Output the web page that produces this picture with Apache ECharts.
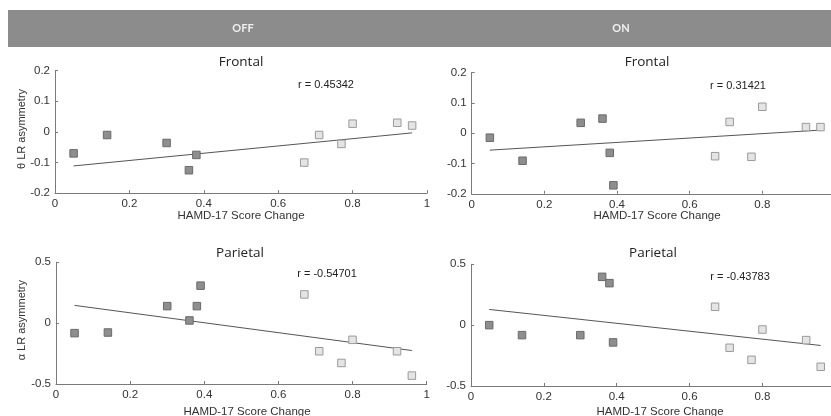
<!DOCTYPE html>
<html>
<head>
<meta charset="utf-8">
<script src="https://cdn.jsdelivr.net/npm/echarts@6/dist/echarts.min.js"></script>
<style>
html,body{margin:0;padding:0;background:#fff;}
#chart{width:831px;height:416px;}
</style>
</head>
<body>
<div id="chart"></div>
<script>
// ---- data ----
const headers = ['OFF', 'ON'];
const panelTitles = ['Frontal', 'Frontal', 'Parietal', 'Parietal'];
const yTitles = ['\u03b8 LR asymmetry', '', '\u03b1 LR asymmetry', ''];
const xTitle = 'HAMD-17 Score Change';
const rLabels = ['r = 0.45342', 'r = 0.31421', 'r = -0.54701', 'r = -0.43783'];

// HAMD-17 score change per subject (first 6 = dark markers, last 6 = light markers)
const scoreChange = [0.05, 0.14, 0.30, 0.36, 0.38, 0.39, 0.67, 0.71, 0.77, 0.80, 0.92, 0.96];
const darkCount = 6;

const offFrontal  = [-0.070, -0.010, -0.036, -0.125, -0.075, null, -0.100, -0.010, -0.039, 0.027, 0.030, 0.021];
const onFrontal   = [-0.015, -0.091, 0.034, 0.048, -0.065, -0.172, -0.076, 0.037, -0.078, 0.087, 0.020, 0.020];
const offParietal = [-0.082, -0.077, 0.140, 0.022, 0.140, 0.308, 0.236, -0.231, -0.327, -0.137, -0.231, -0.431];
const onParietal  = [0.000, -0.082, -0.082, 0.397, 0.345, -0.142, 0.151, -0.186, -0.285, -0.036, -0.123, -0.342];

// fitted regression line end points [x, y]
const offFrontalFit  = [[0.05, -0.111], [0.96, -0.003]];
const onFrontalFit   = [[0.05, -0.056], [0.96, 0.010]];
const offParietalFit = [[0.05, 0.146], [0.96, -0.225]];
const onParietalFit  = [[0.05, 0.129], [0.96, -0.167]];

const xTicks = {min: 0, max: 1, interval: 0.2};
const frontalTicks = {min: -0.2, max: 0.2, interval: 0.1};
const parietalTicks = {min: -0.5, max: 0.5, interval: 0.5};

// ---- layout ----
const panels = [
  {values: offFrontal, fit: offFrontalFit, y: frontalTicks, grid: {left: 55, top: 70.7, width: 372, height: 122.5}},
  {values: onFrontal, fit: onFrontalFit, y: frontalTicks, grid: {left: 471.7, top: 72.5, width: 363.3, height: 121.3}},
  {values: offParietal, fit: offParietalFit, y: parietalTicks, grid: {left: 56, top: 262.3, width: 370.7, height: 121.7}},
  {values: onParietal, fit: onParietalFit, y: parietalTicks, grid: {left: 471, top: 264.3, width: 364.3, height: 121.7}}
];

const FONT = '"Liberation Sans", Arial, sans-serif';
const axisColor = '#7a7a7a';
const grids = [], xAxes = [], yAxes = [], series = [], graphics = [];

// header bar
graphics.push({type: 'rect', shape: {x: 8, y: 10, width: 823, height: 37}, style: {fill: '#8c8c8c'}, z: 0});
graphics.push({type: 'text', x: 243, y: 28, style: {text: headers[0], font: 'bold 11px Lato, "Open Sans", sans-serif', fill: '#f0f0f0', align: 'center', verticalAlign: 'middle'}});
graphics.push({type: 'text', x: 621, y: 28, style: {text: headers[1], font: 'bold 11px Lato, "Open Sans", sans-serif', fill: '#f0f0f0', align: 'center', verticalAlign: 'middle'}});

panels.forEach((p, i) => {
  grids.push(Object.assign({containLabel: false, outerBoundsMode: 'none'}, p.grid));
  xAxes.push({
    gridIndex: i, type: 'value', min: xTicks.min, max: xTicks.max, interval: xTicks.interval,
    axisLine: {show: true, onZero: false, lineStyle: {color: axisColor, width: 1}},
    axisTick: {show: true, inside: true, length: 3, lineStyle: {color: axisColor}},
    axisLabel: {fontSize: 11.5, color: '#333', margin: 5, fontFamily: FONT},
    splitLine: {show: false}
  });
  yAxes.push({
    gridIndex: i, type: 'value', min: p.y.min, max: p.y.max, interval: p.y.interval,
    axisLine: {show: true, onZero: false, lineStyle: {color: axisColor, width: 1}},
    axisTick: {show: true, inside: true, length: 3, lineStyle: {color: axisColor}},
    axisLabel: {fontSize: 11.5, color: '#333', margin: 5, fontFamily: FONT},
    splitLine: {show: false}
  });
  const dark = [], light = [];
  scoreChange.forEach((x, k) => {
    if (p.values[k] === null) return;
    (k < darkCount ? dark : light).push([x, p.values[k]]);
  });
  series.push({
    type: 'line', xAxisIndex: i, yAxisIndex: i, data: p.fit, symbol: 'none', silent: true,
    lineStyle: {color: '#555', width: 1}, z: 1
  });
  series.push({
    type: 'scatter', xAxisIndex: i, yAxisIndex: i, data: dark, symbol: 'rect', symbolSize: 7.5,
    itemStyle: {color: '#8e8e8e', borderColor: '#6a6a6a', borderWidth: 1, opacity: 1}, z: 2
  });
  series.push({
    type: 'scatter', xAxisIndex: i, yAxisIndex: i, data: light, symbol: 'rect', symbolSize: 7.5,
    itemStyle: {color: '#e4e4e4', borderColor: '#9a9a9a', borderWidth: 1, opacity: 1}, z: 2
  });

  const g = p.grid;
  const plotCx = [241, 647, 240, 653][i];
  const titleY = [62, 62, 253, 253][i];
  graphics.push({type: 'text', x: plotCx, y: titleY, style: {text: panelTitles[i], font: '13.5px "Open Sans", Lato, sans-serif', fill: '#222', align: 'center', verticalAlign: 'middle'}});
  const rPos = [[326, 85], [738, 86], [327, 274], [740, 277]][i];
  graphics.push({type: 'text', x: rPos[0], y: rPos[1], style: {text: rLabels[i], font: '11px ' + FONT, fill: '#222', align: 'center', verticalAlign: 'middle'}});
  const xtPos = [[241, 216], [657, 216], [247, 412], [660, 412]][i];
  graphics.push({type: 'text', x: xtPos[0], y: xtPos[1], style: {text: xTitle, font: '11.5px ' + FONT, fill: '#333', align: 'center', verticalAlign: 'middle'}});
  if (yTitles[i]) {
    graphics.push({type: 'text', x: 22, y: g.top + g.height / 2 - 3, rotation: Math.PI / 2,
      style: {text: yTitles[i], font: '11px ' + FONT, fill: '#333', align: 'center', verticalAlign: 'middle'}});
  }
});

const chart = echarts.init(document.getElementById('chart'), null, {renderer: 'canvas'});
chart.setOption({
  animation: false,
  backgroundColor: '#fff',
  grid: grids,
  xAxis: xAxes,
  yAxis: yAxes,
  series: series,
  graphic: graphics
});
</script>
</body>
</html>
